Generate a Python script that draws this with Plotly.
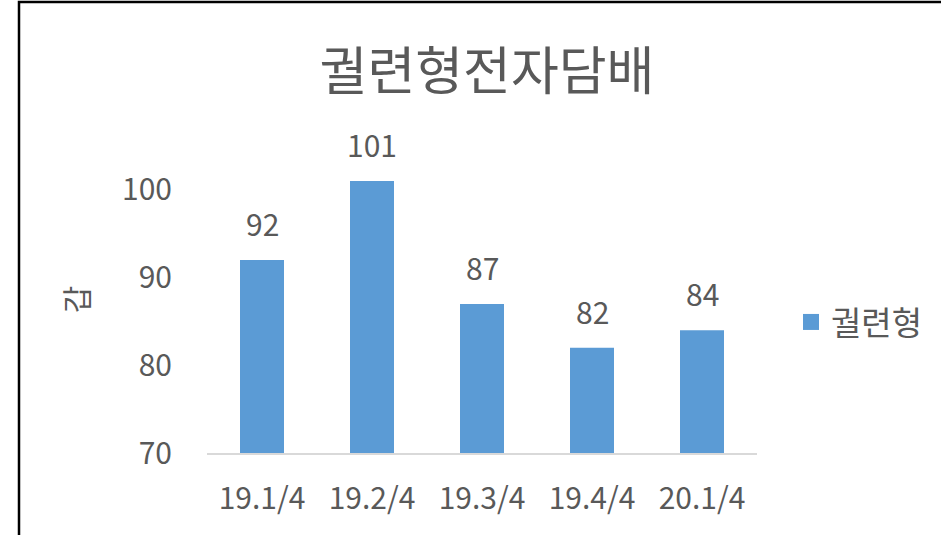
import plotly.graph_objects as go

categories = ["19.1/4", "19.2/4", "19.3/4", "19.4/4", "20.1/4"]
values = [92, 101, 87, 82, 84]
series_name = "궐련형"
title_text = "궐련형전자담배"
y_title = "갑"
y_ticks = [70, 80, 90, 100]

FONT = "Noto Sans CJK KR"
GRAY = "#595959"
BAR = "#5B9BD5"

L, T = 207, 146
W, H = 941, 535
pw, ph = 550, 307
R = W - L - pw
B = H - T - ph

fig = go.Figure()
fig.add_trace(go.Bar(
    x=categories, y=values, name=series_name, showlegend=False,
    marker=dict(color=BAR, line=dict(width=0)),
))
fig.add_trace(go.Scatter(
    x=[None], y=[None], mode="markers", name=series_name,
    marker=dict(symbol="square", size=16, color=BAR),
))
for c, v in zip(categories, values):
    fig.add_annotation(x=c, y=v, text=str(v), showarrow=False,
                       yanchor="middle", yshift=37,
                       font=dict(family=FONT, size=30, color=GRAY))

def px_x(p):
    return (p - L) / pw

def px_y(p):
    return (T + ph - p) / ph

fig.update_layout(
    width=W, height=H,
    margin=dict(l=L, r=R, t=T, b=B, autoexpand=False),
    paper_bgcolor="white", plot_bgcolor="white",
    bargap=0.6,
    showlegend=True,
    title=dict(text=title_text, x=px_x(487), xanchor="center", xref="paper",
               y=1 - 72 / H, yanchor="middle", yref="container",
               font=dict(family=FONT, size=52, color=GRAY)),
    legend=dict(x=px_x(791), y=px_y(322), xanchor="left", yanchor="middle",
                font=dict(family=FONT, size=33, color=GRAY),
                itemwidth=30, bgcolor="rgba(0,0,0,0)"),
    font=dict(family=FONT, color=GRAY),
    xaxis=dict(showline=True, linecolor="#D9D9D9", linewidth=2,
               ticks="", tickfont=dict(family=FONT, size=30, color=GRAY),
               ticklabelstandoff=18, showgrid=False, zeroline=False),
    yaxis=dict(range=[70, 105], tickvals=y_ticks, showline=False,
               showgrid=False, zeroline=False, ticks="",
               tickfont=dict(family=FONT, size=30, color=GRAY),
               ticklabelstandoff=34,
               title=dict(text=y_title, standoff=24,
                          font=dict(family=FONT, size=30, color=GRAY))),
    shapes=[dict(type="rect", xref="paper", yref="paper",
                 x0=px_x(19), x1=px_x(941 + 10), y0=px_y(535 + 10), y1=px_y(2),
                 line=dict(color="black", width=2.5), fillcolor="rgba(0,0,0,0)",
                 layer="above")],
)

fig.write_html("out.html",
               config={"displayModeBar": False},
               post_script="document.body.style.margin='0';document.body.style.overflow='hidden';")
